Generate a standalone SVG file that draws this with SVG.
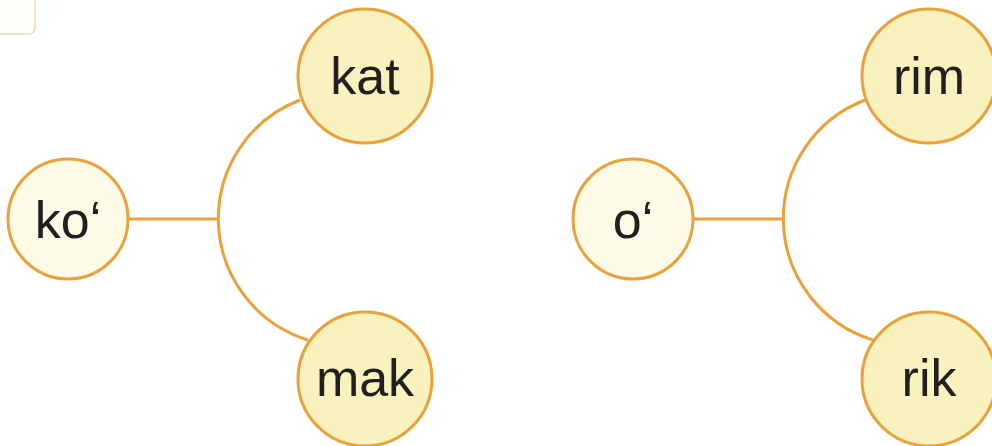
<svg xmlns="http://www.w3.org/2000/svg" width="992" height="446" viewBox="0 0 992 446">
<style>
.ln{fill:none;stroke:#e9a23b;stroke-width:3}
.c1{fill:#fdfbe6;stroke:#e9a23b;stroke-width:3}
.c2{fill:#f9f1be;stroke:#e9a23b;stroke-width:3}
.t{font-family:"Liberation Sans",Arial,sans-serif;font-size:52px;fill:#231f20;text-anchor:middle}
</style>
<rect x="-20" y="-20" width="55" height="54" rx="6" fill="#fffef8" stroke="#ecdca6" stroke-width="1.5"/>
<g id="connectors">
<line class="ln" x1="128" y1="219" x2="218" y2="219"/>
<path class="ln" d="M300,100 A127,127 0 0 0 308,340"/>
<line class="ln" x1="693" y1="219" x2="783" y2="219"/>
<path class="ln" d="M865,100 A127,127 0 0 0 873,340"/>
</g>
<g id="n-ko"><circle class="c1" cx="68" cy="219" r="60"/><text class="t" x="68" y="238">ko‘</text></g>
<g id="n-kat"><circle class="c2" cx="365" cy="76" r="67"/><text class="t" x="365" y="94">kat</text></g>
<g id="n-mak"><circle class="c2" cx="365" cy="379" r="67"/><text class="t" x="365" y="396">mak</text></g>
<g id="n-o"><circle class="c1" cx="633" cy="219" r="60"/><text class="t" x="633" y="238">o‘</text></g>
<g id="n-rim"><circle class="c2" cx="929" cy="76" r="67"/><text class="t" x="929" y="94">rim</text></g>
<g id="n-rik"><circle class="c2" cx="929" cy="379" r="67"/><text class="t" x="929" y="396">rik</text></g>
</svg>
